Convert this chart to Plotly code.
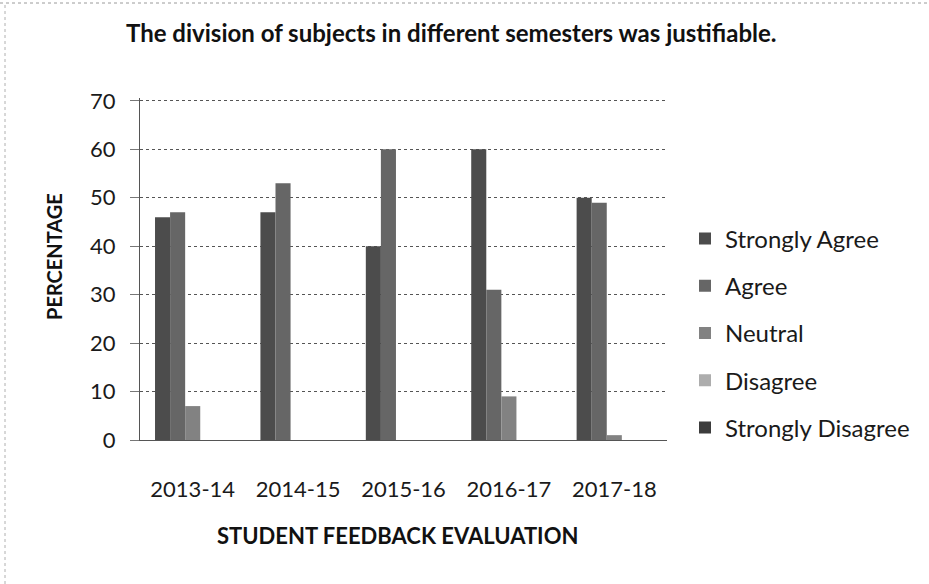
import plotly.graph_objects as go

categories = ["2013-14", "2014-15", "2015-16", "2016-17", "2017-18"]
series_names = ["Strongly Agree", "Agree", "Neutral", "Disagree", "Strongly Disagree"]
strongly_agree = [46, 47, 40, 60, 50]
agree = [47, 53, 60, 31, 49]
neutral = [7, 0, 0, 9, 1]
disagree = [0, 0, 0, 0, 0]
strongly_disagree = [0, 0, 0, 0, 0]
y_ticks = [0, 10, 20, 30, 40, 50, 60, 70]

series_values = [strongly_agree, agree, neutral, disagree, strongly_disagree]
colors = ["#4c4c4c", "#666666", "#828282", "#adadad", "#3c3c3c"]

FONT = "Lato"
L, R, T, B = 140, 262, 98, 144
PW = 929 - L - R
PH = 584 - T - B


def px(x):
    return (x - L) / PW


def py(y):
    return (584 - B - y) / PH


fig = go.Figure()
for name, vals, col in zip(series_names, series_values, colors):
    fig.add_trace(go.Bar(
        x=categories, y=vals, name=name,
        marker=dict(color=col, line=dict(width=0)),
        legendgroup=name,
    ))

fig.update_layout(
    width=929, height=584,
    paper_bgcolor="white", plot_bgcolor="white",
    margin=dict(l=L, r=R, t=T, b=B),
    barmode="group", bargap=0.285, bargroupgap=0,
    font=dict(family=FONT, color="#1a1a1a"),
    showlegend=True,
    legend=dict(
        x=px(685), xanchor="left", y=py(333), yanchor="middle",
        font=dict(size=24, family=FONT, color="#1a1a1a"),
        tracegroupgap=13, itemwidth=30, bgcolor="rgba(0,0,0,0)",
    ),
    annotations=[
        dict(text="<b>The division of subjects in different semesters was justifiable.</b>",
             xref="paper", yref="paper", x=px(451), y=py(32),
             xanchor="center", yanchor="middle", showarrow=False,
             font=dict(size=24, family=FONT, color="#111")),
        dict(text="<b>PERCENTAGE</b>", xref="paper", yref="paper",
             x=px(54), y=py(257), xanchor="center", yanchor="middle",
             textangle=-90, showarrow=False, font=dict(size=20, family=FONT, color="#111")),
        dict(text="<b>STUDENT FEEDBACK EVALUATION</b>", xref="paper", yref="paper",
             x=px(397), y=py(535), xanchor="center", yanchor="middle",
             showarrow=False, font=dict(size=22, family=FONT, color="#111")),
    ],
    shapes=[
        dict(type="line", xref="paper", yref="paper", x0=px(0), x1=px(929),
             y0=py(3), y1=py(3), line=dict(color="#9a9a9a", width=1, dash="dot")),
        dict(type="line", xref="paper", yref="paper", x0=px(5), x1=px(5),
             y0=py(584), y1=py(3), line=dict(color="#b0b0b0", width=1, dash="dot")),
    ],
)

fig.update_xaxes(
    type="category", showgrid=False, showline=True, linecolor="#555", linewidth=1,
    ticks="", tickfont=dict(size=22, family=FONT, color="#1a1a1a"), ticklabelstandoff=30,
)
fig.update_yaxes(
    range=[0, 70.6], tickvals=y_ticks, showgrid=True, gridcolor="#555", griddash="dot", gridwidth=1,
    showline=True, linecolor="#555", linewidth=1, zeroline=False,
    ticks="outside", ticklen=9, tickcolor="#777",
    tickfont=dict(size=22, family=FONT, color="#1a1a1a"), ticklabelstandoff=10,
)

fig.write_html("out.html", config={"displayModeBar": False},
               post_script="document.body.style.margin='0';")
